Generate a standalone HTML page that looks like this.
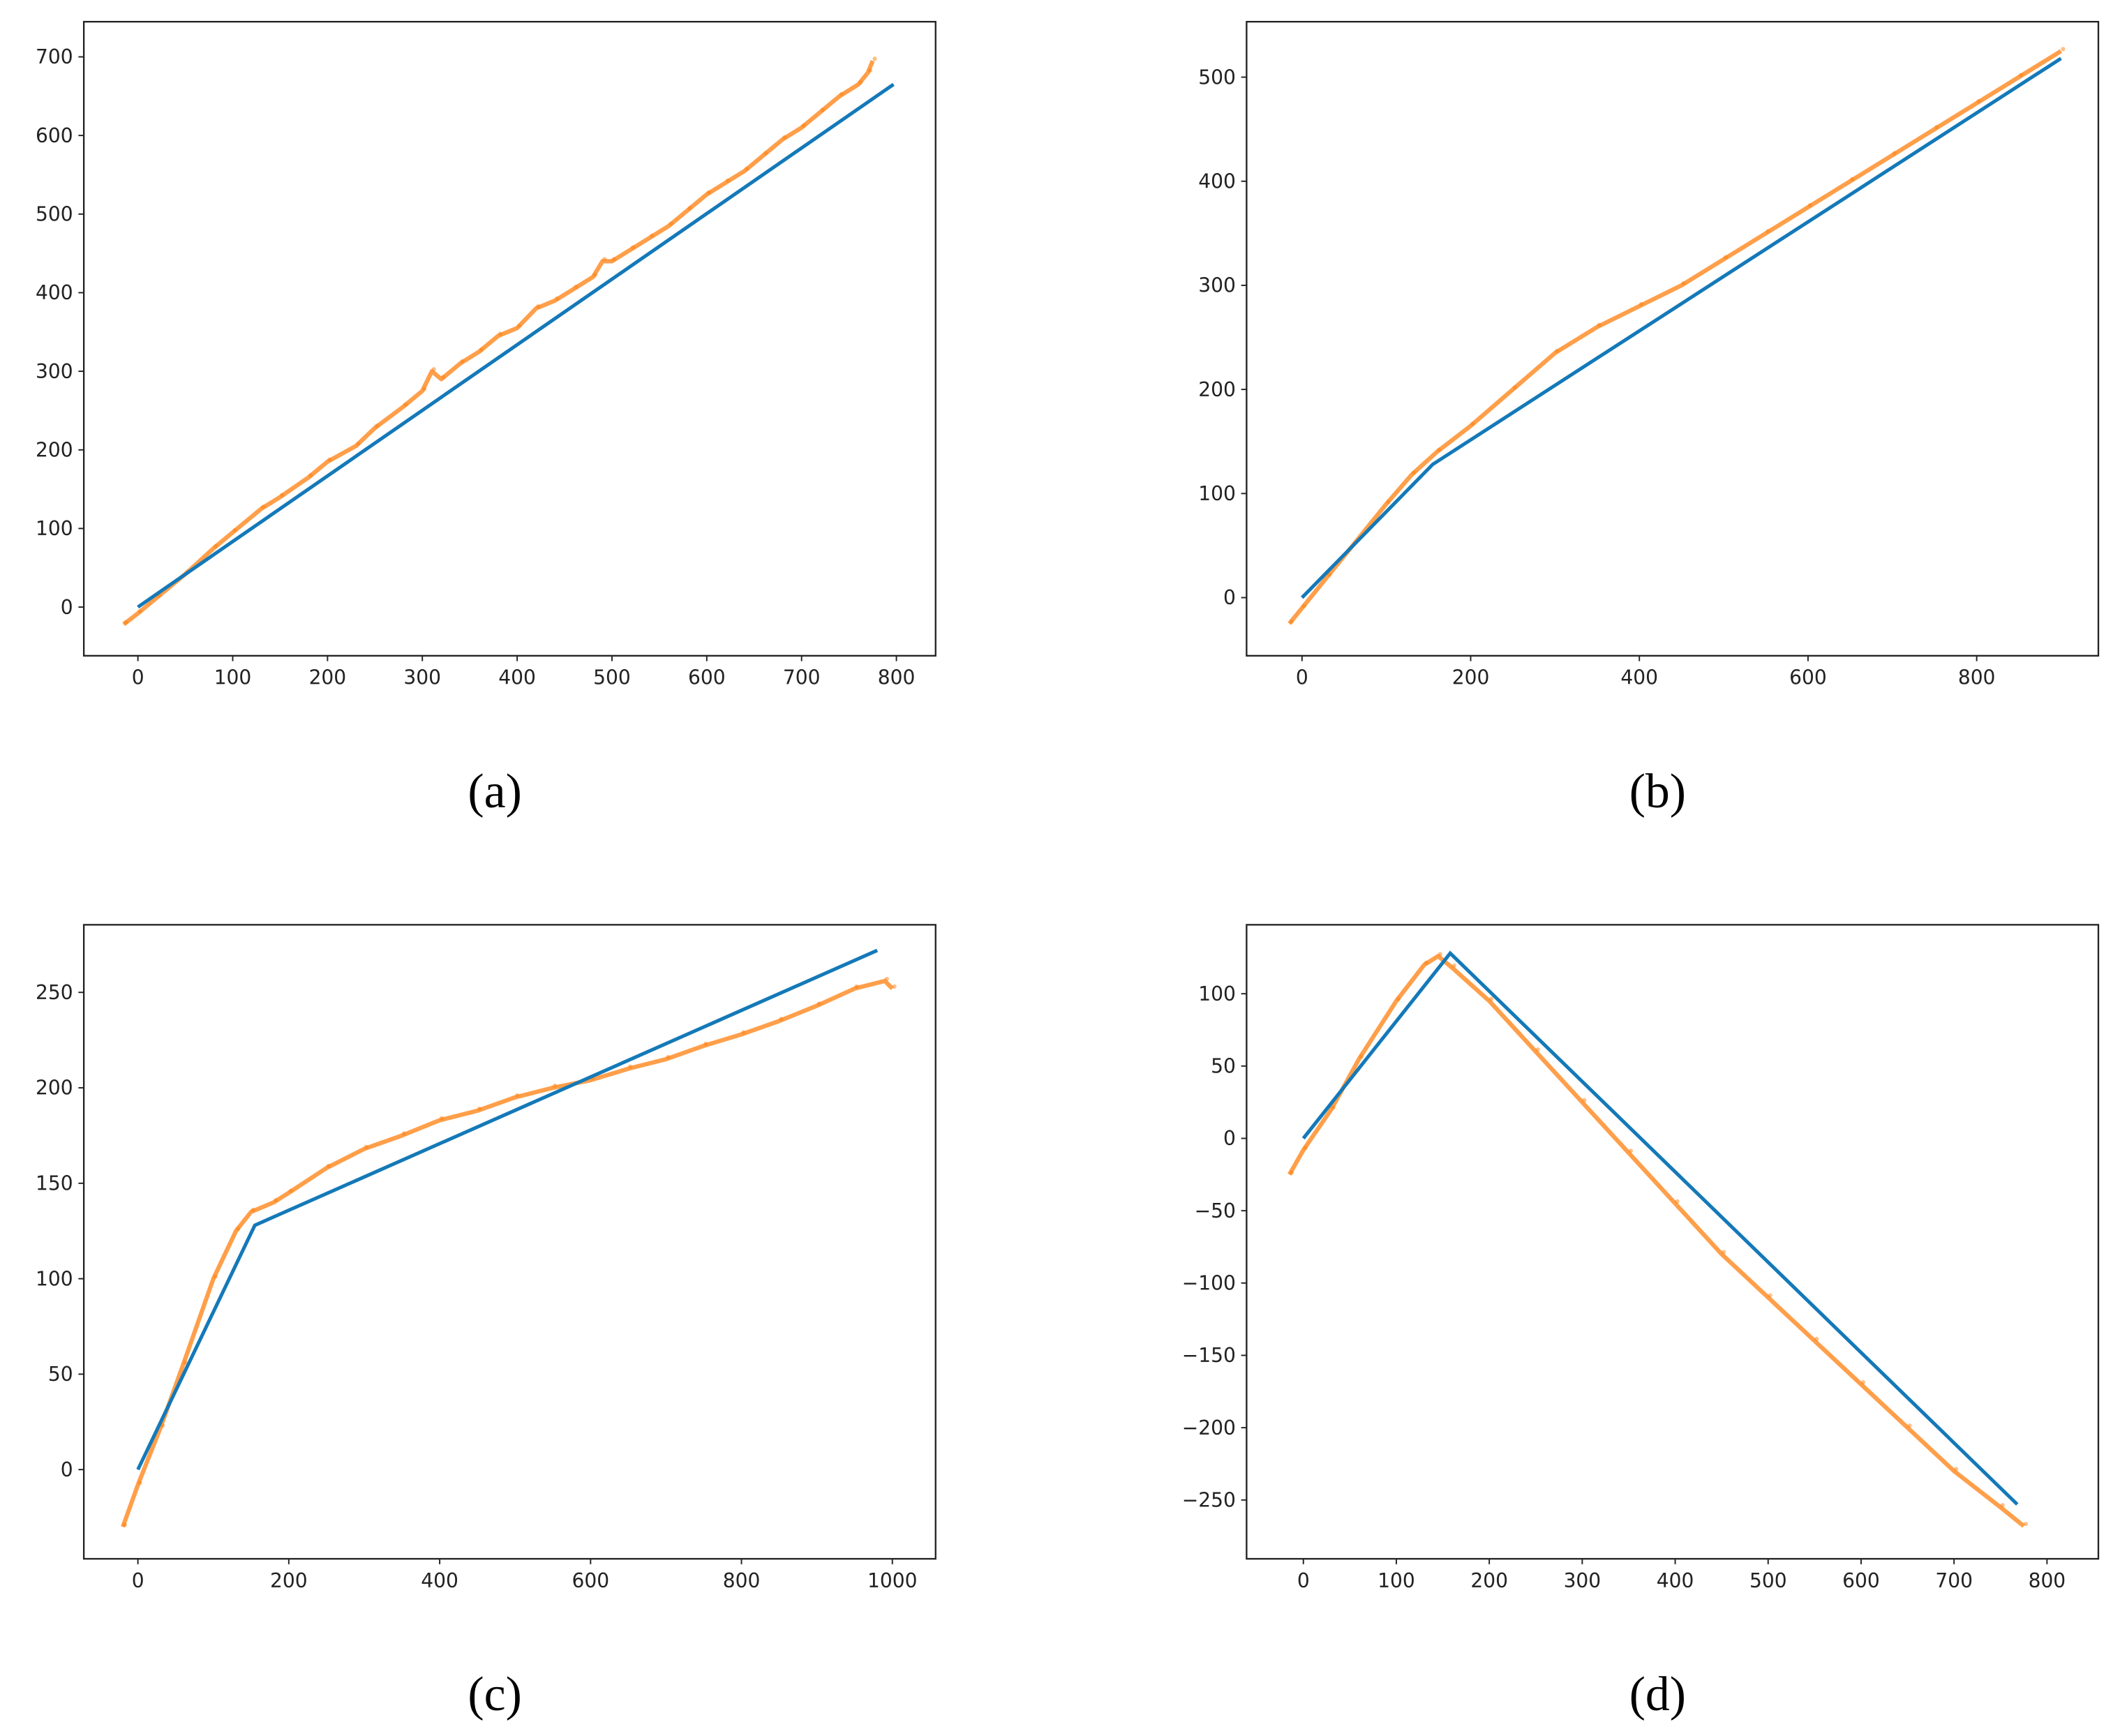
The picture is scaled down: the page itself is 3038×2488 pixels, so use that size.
<!DOCTYPE html>
<html><head><meta charset="utf-8"><style>
html,body{margin:0;padding:0;background:#fff}
svg{display:block}
</style></head><body>
<svg id="fig" width="3038" height="2488" viewBox="0 0 1568 1284" xmlns="http://www.w3.org/2000/svg"></svg>
<script>
// ---- data ----
const aFitX=[0,797], aFitY=[0,665];
const aObsX=[-15,0,20,50,80,100,130,150,180,200,230,250,280,300,310,320,340,360,380,400,420,440,460,480,490,500,520,540,560,580,600,620,640,660,680,700,720,740,760,770,775];
const aObsY=[-22,-8,12,42,75,95,125,140,165,185,205,228,255,275,300,290,310,325,345,355,380,390,405,420,440,440,455,470,485,505,525,540,555,575,595,610,630,650,665,680,695];
const bFitX=[0,155,900], bFitY=[0,128,518];
const bObsX=[-15,0,30,60,100,130,160,200,250,300,350,400,450,500,550,600,650,700,750,800,850,900];
const bObsY=[-25,-10,20,50,90,118,140,165,200,235,260,280,300,325,350,375,400,425,450,475,500,525];
const cFitX=[0,155,980], cFitY=[0,128,272];
const cObsX=[-20,0,30,60,100,130,150,180,200,250,300,350,400,450,500,550,600,650,700,750,800,850,900,950,990,1000];
const cObsY=[-30,-8,22,55,100,125,135,140,145,158,168,175,183,188,195,200,204,210,215,222,228,235,243,252,256,252];
const dFitX=[0,158,768], dFitY=[0,128,-253];
const dObsX=[-15,0,30,60,100,130,145,160,200,250,300,350,400,450,500,550,600,650,700,750,775];
const dObsY=[-25,-8,20,55,95,120,126,118,95,60,25,-10,-45,-80,-110,-140,-170,-200,-230,-255,-268];
const aXT=[0,100,200,300,400,500,600,700,800], aYT=[0,100,200,300,400,500,600,700];
const bXT=[0,200,400,600,800], bYT=[0,100,200,300,400,500];
const cXT=[0,200,400,600,800,1000], cYT=[0,50,100,150,200,250];
const dXT=[0,100,200,300,400,500,600,700,800], dYT=[-250,-200,-150,-100,-50,0,50,100];

const NS="http://www.w3.org/2000/svg";
const svg=document.getElementById('fig');
function mk(tag,attrs,parent){const e=document.createElementNS(NS,tag);for(const k in attrs)e.setAttribute(k,attrs[k]);(parent||svg).appendChild(e);return e;}

function panel(id,box,xa,ya,xt,yt,fx,fy,ox,oy,lab,labPos){
  const g=mk('g',{});
  
  
  // xa: [v0,p0,v1,p1]
  const X=v=>xa[1]+(v-xa[0])*(xa[3]-xa[1])/(xa[2]-xa[0]);
  const Y=v=>ya[1]+(v-ya[0])*(ya[3]-ya[1])/(ya[2]-ya[0]);
  const [L,T,R,B]=box;
  const fr=mk('rect',{x:L,y:T,width:R-L,height:B-T,fill:'none',stroke:'#222','stroke-width':1.2},g);
  
  
  xt.forEach(v=>{
    mk('line',{x1:X(v),x2:X(v),y1:B,y2:B+4,stroke:'#222','stroke-width':1},g);
    const t=mk('text',{x:X(v),y:B+21,'text-anchor':'middle','font-size':14.5,'font-family':'DejaVu Sans, sans-serif',fill:'#222'},g);
    t.textContent=v<0?'\u2212'+(-v):v;
    
    
  });
  yt.forEach(v=>{
    mk('line',{x1:L-4,x2:L,y1:Y(v),y2:Y(v),stroke:'#222','stroke-width':1},g);
    const t=mk('text',{x:L-8,y:Y(v)+5,'text-anchor':'end','font-size':14.5,'font-family':'DejaVu Sans, sans-serif',fill:'#222'},g);
    t.textContent=v<0?'\u2212'+(-v):v;
    
    
  });
  const op=mk('polyline',{points:ox.map((x,i)=>X(x)+','+Y(oy[i])).join(' '),fill:'none',stroke:'#ff7f0e','stroke-width':3.2,'stroke-opacity':0.75,'stroke-linejoin':'round'},g);
  
  
  ox.forEach((x,i)=>{
    const c=mk('circle',{cx:X(x)+1.5,cy:Y(oy[i])-1.5,r:1.6,fill:'#ff7f0e','fill-opacity':0.5},g);
    
    
  });
  const fl=mk('polyline',{points:fx.map((x,i)=>X(x)+','+Y(fy[i])).join(' '),fill:'none',stroke:'#1479b8','stroke-width':2.6},g);
  
  
  const lt=mk('text',{x:labPos[0],y:labPos[1],'text-anchor':'middle','font-size':36,'font-family':'Liberation Serif, serif',fill:'#000'},g);
  lt.textContent=lab;
  
  
}
panel('a',[62,16,692,485],[0,102,800,663],[0,449,700,42],aXT,aYT,aFitX,aFitY,aObsX,aObsY,'(a)',[366,597]);
panel('b',[922,16,1552,485],[0,963,800,1462],[0,442,500,57],bXT,bYT,bFitX,bFitY,bObsX,bObsY,'(b)',[1226,597]);
panel('c',[62,684,692,1153],[0,102,1000,660],[0,1087,250,734],cXT,cYT,cFitX,cFitY,cObsX,cObsY,'(c)',[366,1265]);
panel('d',[922,684,1552,1153],[0,964,800,1514],[0,842,100,735],dXT,dYT,dFitX,dFitY,dObsX,dObsY,'(d)',[1226,1265]);
</script>
</body></html>
